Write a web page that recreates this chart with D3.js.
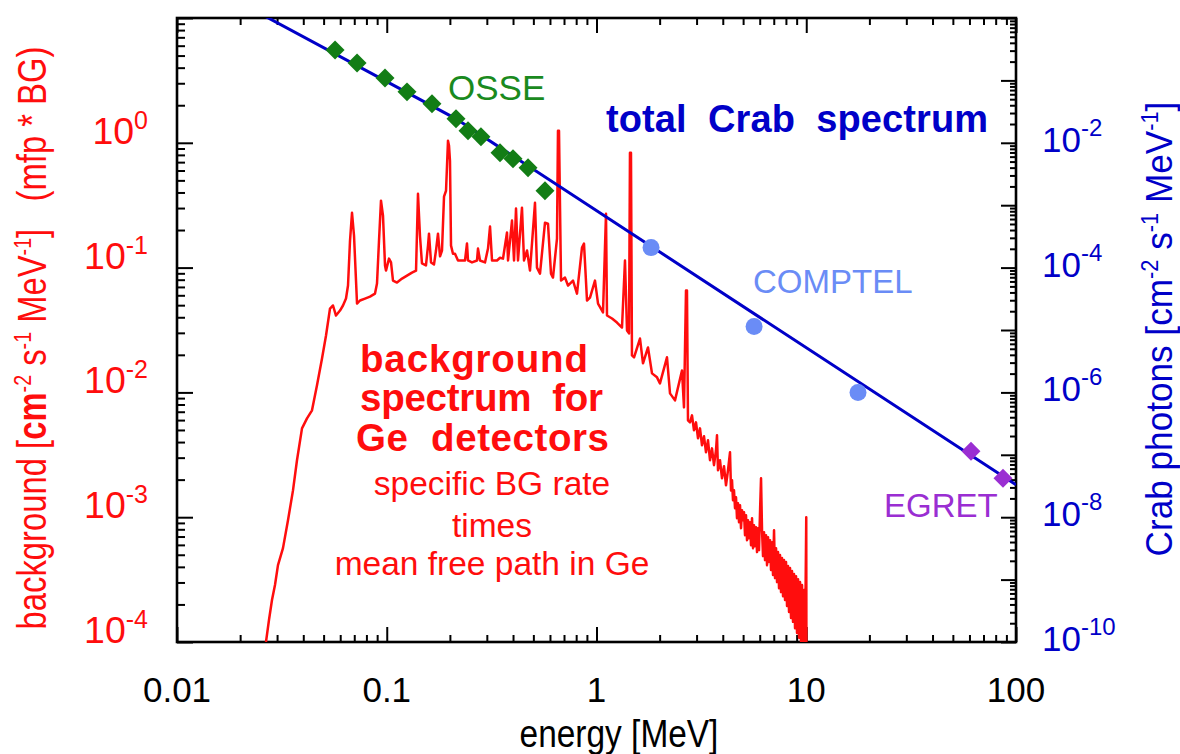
<!DOCTYPE html>
<html>
<head>
<meta charset="utf-8">
<script src="https://cdn.jsdelivr.net/npm/d3@7"></script>
<style>
  html, body { margin: 0; padding: 0; background: #fff; }
  svg { display: block; font-family: "Liberation Sans", Arial, Helvetica, sans-serif; }
</style>
</head>
<body>
<svg id="chart" width="1180" height="754"></svg>
<script>
// ---- Ge detector background spectrum (specific BG rate x mean free path), left axis ----
const bgEnergy = [
  0.02656, 0.02745, 0.02837, 0.02932, 0.03030, 0.03201, 0.03382, 0.03573, 0.03733, 0.03944,
  0.04167, 0.04402, 0.04650, 0.04913, 0.05134, 0.05364, 0.05543, 0.05728, 0.05986, 0.06186,
  0.06393, 0.06536, 0.06681, 0.06829, 0.06982, 0.07136, 0.07215, 0.07456, 0.07876, 0.08320,
  0.08790, 0.08985, 0.09185, 0.09388, 0.09596, 0.09811, 0.09917, 0.1025, 0.1048, 0.1071,
  0.1119, 0.1183, 0.1249, 0.1319, 0.1379, 0.1409, 0.1440, 0.1472, 0.1538, 0.1573,
  0.1590, 0.1626, 0.1680, 0.1717, 0.1755, 0.1795, 0.1834, 0.1875, 0.1917, 0.1959,
  0.1981, 0.2002, 0.2025, 0.2069, 0.2115, 0.2186, 0.2361, 0.2413, 0.2440, 0.2549,
  0.2693, 0.2723, 0.2784, 0.2940, 0.3039, 0.3107, 0.3176, 0.3355, 0.3467, 0.3583,
  0.3744, 0.3786, 0.3955, 0.4044, 0.4133, 0.4224, 0.4413, 0.4512, 0.4663, 0.4819,
  0.5090, 0.5203, 0.5378, 0.5681, 0.5871, 0.6068, 0.6203, 0.6481, 0.6552, 0.6625,
  0.6774, 0.7077, 0.7314, 0.7727, 0.8072, 0.8530, 0.8717, 0.9010, 0.9312, 0.9835,
  1.017, 1.074, 1.110, 1.122, 1.186, 1.252, 1.323, 1.367, 1.398, 1.429,
  1.444, 1.460, 1.476, 1.510, 1.612, 1.666, 1.760, 1.839, 1.943, 2.007,
  2.168, 2.241, 2.367, 2.556, 2.613, 2.671, 2.700, 2.730, 2.791, 2.853,
  2.916, 2.981, 3.048, 3.115, 3.184, 3.255, 3.327, 3.401, 3.476, 3.553,
  3.632, 3.713, 3.754, 3.795, 3.879, 3.966, 4.054, 4.144, 4.236, 4.330,
  4.378, 4.426, 4.475, 4.524, 4.575, 4.625, 4.676, 4.728, 4.780, 4.833,
  4.886, 4.940, 4.995, 5.050, 5.106, 5.162, 5.219, 5.277, 5.335, 5.394,
  5.454, 5.514, 5.575, 5.636, 5.699, 5.761, 5.825, 5.889, 5.954, 6.020,
  6.087, 6.154, 6.222, 6.290, 6.360, 6.430, 6.501, 6.573, 6.646, 6.719,
  6.793, 6.868, 6.944, 7.021, 7.098, 7.177, 7.256, 7.336, 7.417, 7.499,
  7.582, 7.665, 7.750, 7.836, 7.922, 8.010, 8.098, 8.188, 8.278, 8.370,
  8.462, 8.555, 8.650, 8.745, 8.842, 8.940, 9.038, 9.138, 9.239, 9.341,
  9.444, 9.548, 9.654, 9.760, 9.868, 10.0, 10.02
];
const bgRate = [
  1.0e-4, 1.50e-4, 2.17e-4, 2.86e-4, 4.13e-4, 5.65e-4, 9.46e-4, 1.64e-3, 2.86e-3, 5.15e-3,
  6.19e-3, 7.18e-3, 0.0114, 0.0187, 0.0286, 0.0470, 0.0497, 0.0413, 0.0453, 0.0497,
  0.0565, 0.0718, 0.164, 0.275, 0.180, 0.0787, 0.0515, 0.0545, 0.0565, 0.0586,
  0.0619, 0.0745, 0.164, 0.344, 0.261, 0.104, 0.0946, 0.118, 0.110, 0.0787,
  0.0759, 0.0817, 0.0863, 0.0912, 0.0946, 0.391, 0.180, 0.108, 0.104, 0.150,
  0.187, 0.110, 0.106, 0.137, 0.187, 0.123, 0.137, 0.370, 0.413, 1.04,
  0.946, 0.718, 0.150, 0.129, 0.129, 0.114, 0.114, 0.156, 0.114, 0.110,
  0.114, 0.142, 0.114, 0.110, 0.142, 0.213, 0.114, 0.114, 0.120, 0.118,
  0.191, 0.114, 0.238, 0.114, 0.297, 0.114, 0.302, 0.114, 0.137, 0.0946,
  0.331, 0.100, 0.0895, 0.229, 0.225, 0.0895, 0.0832, 0.171, 1.25, 1.25,
  0.0787, 0.0832, 0.0718, 0.0787, 0.0619, 0.145, 0.156, 0.0545, 0.0575, 0.0787,
  0.0515, 0.0437, 0.270, 0.0413, 0.0391, 0.0363, 0.0331, 0.114, 0.0313, 0.0297,
  0.832, 0.832, 0.0198, 0.0191, 0.0270, 0.0171, 0.0229, 0.0142, 0.0132, 0.0118,
  0.0191, 0.00982, 0.00863, 0.0150, 0.00759, 0.0655, 0.0655, 5.97e-3, 5.75e-3, 6.55e-3,
  4.97e-3, 5.75e-3, 4.29e-3, 5.15e-3, 3.77e-3, 4.45e-3, 3.31e-3, 4.13e-3, 2.86e-3, 3.56e-3,
  2.61e-3, 3.44e-3, 4.53e-3, 2.38e-3, 2.86e-3, 2.05e-3, 2.56e-3, 1.80e-3, 2.38e-3, 3.31e-3,
  1.64e-3, 1.98e-3, 1.368e-3, 1.644e-3, 1.180e-3, 1.445e-3, 9.82e-4, 1.294e-3, 9.12e-4, 1.247e-3,
  8.17e-4, 1.138e-3, 9.46e-4, 1.096e-3, 7.18e-4, 1.038e-3, 6.55e-4, 9.46e-4, 6.79e-4, 9.12e-4,
  5.97e-4, 9.82e-4, 5.65e-4, 8.63e-4, 5.86e-4, 8.32e-4, 5.25e-4, 8.17e-4, 5.45e-4, 1.096e-3,
  2.05e-3, 7.87e-4, 4.88e-4, 7.59e-4, 4.53e-4, 7.18e-4, 4.13e-4, 6.92e-4, 4.37e-4, 6.55e-4,
  3.77e-4, 6.31e-4, 3.44e-4, 7.87e-4, 3.25e-4, 5.65e-4, 3.02e-4, 5.25e-4, 2.70e-4, 4.97e-4,
  2.51e-4, 4.70e-4, 2.33e-4, 4.53e-4, 2.17e-4, 4.37e-4, 1.94e-4, 4.06e-4, 1.74e-4, 3.91e-4,
  1.56e-4, 3.70e-4, 1.45e-4, 3.50e-4, 1.29e-4, 3.37e-4, 1.18e-4, 3.19e-4, 1.08e-4, 3.02e-4,
  1.0e-4, 2.86e-4, 9.29e-5, 2.61e-4, 8.95e-5, 1.0e-3, 8.63e-5
];

// ---- Crab spectrum, right axis ----
const crabEnergy = [0.02, 0.214, 100];
const crabFlux = [1.75, 0.0242, 3.31e-8];

const osseEnergy = [0.0567, 0.0722, 0.0981, 0.1249, 0.1643, 0.2139, 0.2440, 0.2813, 0.3467, 0.3999, 0.4716, 0.568];
const osseFlux = [0.308, 0.1905, 0.1096, 0.0655, 0.0421, 0.0242, 0.01556, 0.01247, 0.00692, 0.00555, 0.00398, 0.001706];

const comptelEnergy = [1.82, 5.64, 17.65];
const comptelFlux = [2.09e-4, 1.14e-5, 1.0e-6];

const egretEnergy = [61.0, 86.7];
const egretFlux = [1.14e-7, 4.21e-8];

// ---- tick labels ----
const xTickValues = [0.01, 0.1, 1, 10, 100];
const xTickLabels = ["0.01", "0.1", "1", "10", "100"];
const leftTickExponents = ["0", "-1", "-2", "-3", "-4"];
const rightTickExponents = ["-2", "-4", "-6", "-8", "-10"];

// ---- colours ----
const RED = "#ff0d0d";
const BLUE = "#0000c8";
const GREEN = "#127d15";
const LIGHTBLUE = "#6a8cf6";
const PURPLE = "#9a2ed2";

const svg = d3.select("#chart");
const X0 = 177, X1 = 1016, Y0 = 18, Y1 = 642;

const x = d3.scaleLog().domain([0.01, 100]).range([X0, X1]);
const yL = d3.scaleLog().domain([1e-4, 1e1]).range([Y1, Y0]);
const yR = d3.scaleLog().domain([1e-10, 1]).range([Y1, Y0]);

// minor tick positions per decade
function minorTicks(lo, hi) {
  const out = [];
  for (let e = lo; e < hi; e++) {
    for (let k = 2; k <= 9; k++) out.push(k * Math.pow(10, e));
  }
  return out;
}
function decades(lo, hi) {
  const out = [];
  for (let e = lo; e <= hi; e++) out.push(Math.pow(10, e));
  return out;
}

svg.append("defs").append("clipPath").attr("id", "plotArea")
  .append("rect").attr("x", X0).attr("y", Y0).attr("width", X1 - X0).attr("height", Y1 - Y0);

function tidy(g) {
  g.select(".domain").remove();
  g.selectAll(".tick text").remove();
  g.selectAll(".tick line").attr("stroke", "#000").attr("stroke-width", 2);
}

// bottom and top axes (ticks pointing inward)
svg.append("g").attr("transform", `translate(0,${Y1})`)
  .call(d3.axisBottom(x).tickValues(decades(-2, 2)).tickSize(-15).tickSizeOuter(0)).call(tidy);
svg.append("g").attr("transform", `translate(0,${Y1})`)
  .call(d3.axisBottom(x).tickValues(minorTicks(-2, 2)).tickSize(-7).tickSizeOuter(0)).call(tidy);
svg.append("g").attr("transform", `translate(0,${Y0})`)
  .call(d3.axisTop(x).tickValues(decades(-2, 2)).tickSize(-15).tickSizeOuter(0)).call(tidy);
svg.append("g").attr("transform", `translate(0,${Y0})`)
  .call(d3.axisTop(x).tickValues(minorTicks(-2, 2)).tickSize(-7).tickSizeOuter(0)).call(tidy);

// left axis (background)
svg.append("g").attr("transform", `translate(${X0},0)`)
  .call(d3.axisLeft(yL).tickValues(decades(-4, 1)).tickSize(-16).tickSizeOuter(0)).call(tidy);
svg.append("g").attr("transform", `translate(${X0},0)`)
  .call(d3.axisLeft(yL).tickValues(minorTicks(-4, 1)).tickSize(-8).tickSizeOuter(0)).call(tidy);

// right axis (Crab photons)
svg.append("g").attr("transform", `translate(${X1},0)`)
  .call(d3.axisRight(yR).tickValues(decades(-10, 0)).tickSize(-15).tickSizeOuter(0)).call(tidy);
svg.append("g").attr("transform", `translate(${X1},0)`)
  .call(d3.axisRight(yR).tickValues(minorTicks(-10, 0)).tickSize(-6).tickSizeOuter(0)).call(tidy);

// plot frame
svg.append("rect")
  .attr("x", X0).attr("y", Y0).attr("width", X1 - X0).attr("height", Y1 - Y0)
  .attr("fill", "none").attr("stroke", "#000").attr("stroke-width", 2.6);

// x tick labels
svg.append("g").selectAll("text").data(xTickValues).join("text")
  .attr("x", d => x(d)).attr("y", 702)
  .attr("text-anchor", "middle").attr("font-size", 35).attr("fill", "#000")
  .text((d, i) => xTickLabels[i]);

// left tick labels 10^n
const leftLab = svg.append("g").selectAll("text").data(leftTickExponents).join("text")
  .attr("x", 148).attr("y", d => yL(Math.pow(10, +d)) + 1)
  .attr("text-anchor", "end").attr("font-size", 37.5).attr("fill", RED);
leftLab.append("tspan").text("10");
leftLab.append("tspan").attr("font-size", 25).attr("dy", -15).text(d => d);

// right tick labels 10^n
const rightLab = svg.append("g").selectAll("text").data(rightTickExponents).join("text")
  .attr("x", 1042).attr("y", d => yR(Math.pow(10, +d)) + 9)
  .attr("text-anchor", "start").attr("font-size", 35).attr("fill", BLUE);
rightLab.append("tspan").text("10");
rightLab.append("tspan").attr("font-size", 24).attr("dy", -16).text(d => d);

// x axis title
svg.append("text")
  .attr("transform", "translate(619,747) scale(0.88,1)")
  .attr("text-anchor", "middle").attr("font-size", 38).attr("fill", "#000")
  .text("energy [MeV]");

// left axis title
const lt = svg.append("text")
  .attr("transform", "translate(46,338) rotate(-90) scale(0.82,1)")
  .attr("text-anchor", "middle").attr("font-size", 40).attr("fill", RED)
  .style("white-space", "pre");
lt.append("tspan").text("background [");
lt.append("tspan").attr("font-weight", "bold").text("cm");
lt.append("tspan").attr("font-size", 24).attr("dy", -15).text("-2");
lt.append("tspan").attr("dy", 15).text(" s");
lt.append("tspan").attr("font-size", 24).attr("dy", -15).text("-1");
lt.append("tspan").attr("dy", 15).text(" MeV");
lt.append("tspan").attr("font-size", 24).attr("dy", -15).text("-1");
lt.append("tspan").attr("dy", 15).text("]   (mfp * BG)");

// right axis title
const rt = svg.append("text")
  .attr("transform", "translate(1172,329) rotate(-90) scale(0.95,1)")
  .attr("text-anchor", "middle").attr("font-size", 37).attr("fill", BLUE);
rt.append("tspan").text("Crab photons [cm");
rt.append("tspan").attr("font-size", 23).attr("dy", -14).text("-2");
rt.append("tspan").attr("dy", 14).text(" s");
rt.append("tspan").attr("font-size", 23).attr("dy", -14).text("-1");
rt.append("tspan").attr("dy", 14).text(" MeV");
rt.append("tspan").attr("font-size", 23).attr("dy", -14).text("-1");
rt.append("tspan").attr("dy", 14).text("]");

// data layer
const plot = svg.append("g").attr("clip-path", "url(#plotArea)");

const bgData = bgEnergy.map((e, i) => [e, bgRate[i]]);
plot.append("path").datum(bgData)
  .attr("fill", "none").attr("stroke", RED).attr("stroke-width", 2.5)
  .attr("stroke-linejoin", "round")
  .attr("d", d3.line().x(d => x(d[0])).y(d => yL(d[1])));

const crabData = crabEnergy.map((e, i) => [e, crabFlux[i]]);
plot.append("path").datum(crabData)
  .attr("fill", "none").attr("stroke", BLUE).attr("stroke-width", 3)
  .attr("d", d3.line().x(d => x(d[0])).y(d => yR(d[1])));

const diamond = d3.symbol().type(d3.symbolSquare).size(180);

plot.append("g").selectAll("path").data(osseEnergy).join("path")
  .attr("transform", (d, i) => `translate(${x(d)},${yR(osseFlux[i])}) rotate(45)`)
  .attr("d", diamond).attr("fill", GREEN);

plot.append("g").selectAll("circle").data(comptelEnergy).join("circle")
  .attr("cx", d => x(d)).attr("cy", (d, i) => yR(comptelFlux[i])).attr("r", 8.5)
  .attr("fill", LIGHTBLUE);

svg.append("g").selectAll("path").data(egretEnergy).join("path")
  .attr("transform", (d, i) => `translate(${x(d)},${yR(egretFlux[i])}) rotate(45)`)
  .attr("d", diamond).attr("fill", PURPLE);

// annotations
svg.append("text").attr("x", 448).attr("y", 100).attr("font-size", 35)
  .attr("fill", "#1a8a1e").text("OSSE");

svg.append("text").attr("x", 606).attr("y", 132).attr("font-size", 38)
  .attr("font-weight", "bold").attr("fill", BLUE).style("white-space", "pre")
  .attr("textLength", 382).attr("lengthAdjust", "spacing")
  .text("total  Crab  spectrum");

svg.append("text").attr("x", 753).attr("y", 293).attr("font-size", 33)
  .attr("fill", LIGHTBLUE).text("COMPTEL");

svg.append("text").attr("x", 884).attr("y", 517).attr("font-size", 33)
  .attr("fill", PURPLE).text("EGRET");

const boldLines = ["background", "spectrum  for", "Ge  detectors"];
const boldBase = [372, 411, 451];
const boldWidth = [228, 243, 253];
svg.append("g").selectAll("text").data(boldLines).join("text")
  .attr("x", (d, i) => i === 2 ? 356 : 360).attr("y", (d, i) => boldBase[i])
  .attr("font-size", 38.5).attr("font-weight", "bold").attr("fill", RED)
  .attr("textLength", (d, i) => boldWidth[i]).attr("lengthAdjust", "spacing")
  .style("white-space", "pre").text(d => d);

const noteLines = ["specific BG rate", "times", "mean free path in Ge"];
const noteBase = [495, 537, 575];
svg.append("g").selectAll("text").data(noteLines).join("text")
  .attr("x", 492).attr("y", (d, i) => noteBase[i])
  .attr("text-anchor", "middle").attr("font-size", 33.5).attr("fill", RED)
  .text(d => d);
</script>
</body>
</html>
